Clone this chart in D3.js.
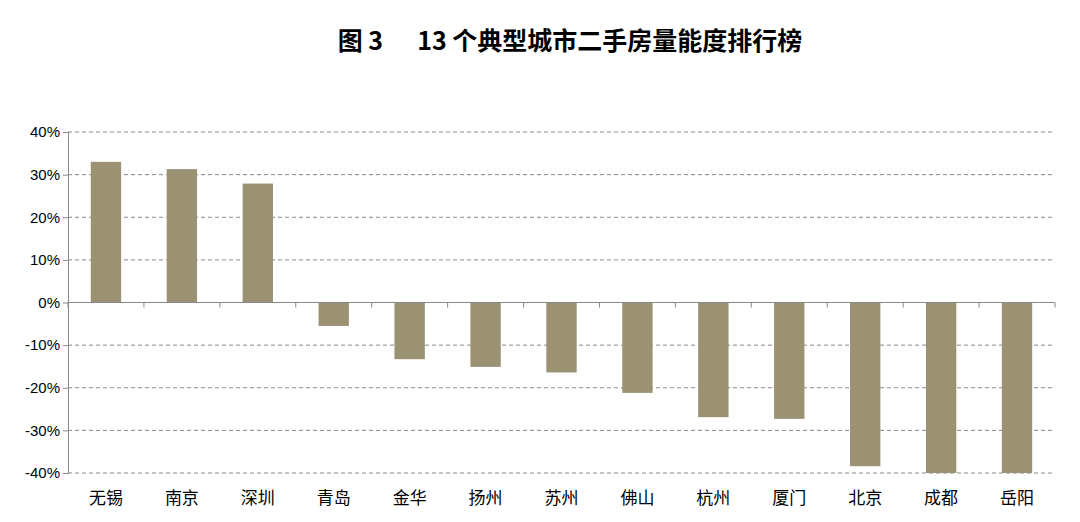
<!DOCTYPE html>
<html><head><meta charset="utf-8">
<script src="https://cdn.jsdelivr.net/npm/d3@7"></script>
<style>body{margin:0;background:#fff;font-family:"Noto Sans CJK SC","Noto Sans",sans-serif}</style>
</head><body>
<script>
var cities = ["无锡","南京","深圳","青岛","金华","扬州","苏州","佛山","杭州","厦门","北京","成都","岳阳"];
var values = [33, 31.3, 27.9, -5.5, -13.3, -15.1, -16.4, -21.2, -26.9, -27.3, -38.4, -40, -40];
var yTicks = [-40, -30, -20, -10, 0, 10, 20, 30, 40];

var svg = d3.select("body").append("svg").attr("width", 1080).attr("height", 522);
var plotL = 68, plotR = 1055, plotT = 132, plotB = 473;

svg.append("text").attr("x", 570).attr("y", 50).attr("text-anchor", "middle")
    .attr("font-size", "25px").attr("font-weight", "bold").attr("fill", "#000")
    .attr("xml:space", "preserve")
    .text("图 3      13 个典型城市二手房量能度排行榜");

var x = d3.scaleBand().domain(cities).range([plotL, plotR]).paddingInner(0.6).paddingOuter(0.3);
var band = d3.scaleBand().domain(cities).range([plotL, plotR]);
var y = d3.scaleLinear().domain([-40, 40]).range([plotB, plotT]);

// gridlines
svg.append("g").selectAll("line").data(yTicks).enter().append("line")
    .attr("x1", plotL).attr("x2", plotR)
    .attr("y1", d => y(d)).attr("y2", d => y(d))
    .attr("stroke", "#888").attr("stroke-dasharray", "4,3").attr("stroke-width", 1);

// y axis
var ya = svg.append("g").attr("transform", "translate(" + plotL + ",0)")
    .call(d3.axisLeft(y).tickValues(yTicks).tickSize(5).tickFormat(d => d + "%"));
ya.select(".domain").attr("stroke", "#888");
ya.selectAll(".tick line").attr("stroke", "#888");
ya.selectAll("text").attr("font-size", "15px").attr("fill", "#000")
    .attr("font-family", "Liberation Sans, Arial, sans-serif");

// bars
svg.append("g").selectAll("rect").data(values).enter().append("rect")
    .attr("x", (d, i) => x(cities[i]))
    .attr("width", x.bandwidth())
    .attr("y", d => y(Math.max(0, d)))
    .attr("height", d => Math.abs(y(d) - y(0)))
    .attr("fill", "#9b9273");

// zero axis with category ticks
svg.append("line").attr("x1", plotL).attr("x2", plotR).attr("y1", y(0)).attr("y2", y(0))
    .attr("stroke", "#888");
svg.append("g").selectAll("line").data(cities.concat(["end"])).enter().append("line")
    .attr("x1", (d, i) => plotL + i * band.bandwidth())
    .attr("x2", (d, i) => plotL + i * band.bandwidth())
    .attr("y1", y(0)).attr("y2", y(0) + 5).attr("stroke", "#888");

// category labels
svg.append("g").selectAll("text").data(cities).enter().append("text")
    .attr("x", d => band(d) + band.bandwidth() / 2).attr("y", 504)
    .attr("text-anchor", "middle").attr("font-size", "17px").attr("fill", "#000")
    .text(d => d);
</script>
</body></html>
